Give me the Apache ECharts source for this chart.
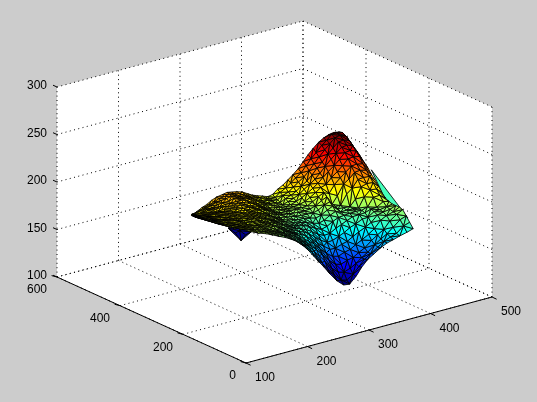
<!DOCTYPE html>
<html><head><meta charset="utf-8">
<style>html,body{margin:0;padding:0;background:#ccc}#c{width:537px;height:402px}</style>
<script src="https://cdn.jsdelivr.net/npm/echarts@6/dist/echarts.min.js"></script>
</head><body><div id="c"></div>
<script>
const xTicks=[100,200,300,400,500];
const yTicks=[0,200,400,600];
const zTicks=[100,150,200,250,300];
// surface columns: x value, first y value in the column, last y value
const columnX=[152,160,169,177,185,193,202,210,218,226,235,243,251,259,268,276,284,292,301,309,317,326,334,342,350,359,367,375,383,392,400];
const columnYFront=[262,205,172,160,150,143,135,130,125,120,116,113,112,112,112,112,111,108,104,98,95,92,89,86,82,77,73,68,64,59,55];
const columnYBack=275;
// z, one row per column, front edge to back edge
const surfaceZ=[
[205,205,206,205,205,206,206,205,205,206,205,205,206,205,205,206,205,205,205,206,205],
[205,205,205,206,206,206,206,207,206,207,207,207,207,207,207,208,207,207,208,207,207],
[204,204,205,205,206,206,207,207,207,208,208,208,209,209,209,209,210,210,210,210,210],
[203,204,204,205,205,206,207,207,208,208,209,209,210,210,210,211,211,211,212,212,212],
[201,202,203,203,204,205,206,206,207,208,208,209,210,210,211,212,212,213,214,214,215],
[199,200,201,202,203,203,204,205,206,207,208,209,209,210,211,212,213,214,215,216,217],
[198,199,200,201,202,203,204,205,205,206,207,208,209,210,211,212,213,214,216,217,218],
[196,197,198,199,200,201,203,204,205,206,207,208,209,210,212,213,214,216,217,218,219],
[194,195,196,197,199,200,201,202,204,205,206,207,208,210,211,212,214,215,216,217,218],
[192,193,194,195,196,198,199,200,202,203,204,205,207,208,209,211,212,213,214,216,217],
[189,190,191,192,194,195,196,198,199,200,202,203,204,205,207,208,209,211,212,213,215],
[185,186,188,189,191,192,193,195,196,197,199,200,201,203,204,205,206,208,209,210,212],
[180,182,184,186,188,189,191,192,193,195,196,197,199,200,201,202,204,205,206,208,209],
[174,177,180,182,185,186,188,190,191,193,194,195,197,198,199,200,202,203,204,206,207],
[166,170,174,177,180,183,185,187,189,191,192,194,195,196,198,199,200,201,203,204,205],
[159,163,168,172,176,180,183,185,187,189,191,193,195,196,197,198,199,200,201,202,203],
[152,156,162,167,172,176,180,183,186,188,190,192,194,195,196,197,198,199,201,202,204],
[144,149,155,161,166,171,176,180,184,187,190,192,194,196,197,198,200,202,204,206,208],
[136,141,147,154,160,166,171,176,181,185,189,192,194,196,198,200,202,204,206,209,211],
[131,135,142,149,156,162,168,174,179,184,188,192,195,197,200,203,205,207,210,213,215],
[131,134,141,148,155,162,169,175,181,186,190,194,197,200,203,206,209,211,214,217,219],
[138,139,144,151,158,165,172,179,185,190,194,198,201,204,207,210,213,215,218,221,224],
[147,146,148,153,160,167,175,182,188,193,197,200,204,207,211,214,217,220,223,227,230],
[154,153,153,157,164,171,179,185,189,191,193,194,195,205,213,219,222,226,229,233,236],
[159,158,158,161,168,175,182,188,190,192,193,194,203,213,219,224,228,231,235,238,241],
[165,164,165,168,173,179,186,189,191,192,193,205,214,219,224,229,234,238,241,244,246],
[169,169,170,173,178,183,187,190,191,192,200,210,218,224,229,234,239,243,246,248,249],
[172,173,175,178,186,190,192,193,194,203,212,218,224,229,235,240,244,248,251,253,251],
[175,176,181,186,190,192,193,194,203,209,214,219,225,230,236,241,245,249,252,253,252],
[178,183,188,192,193,194,195,199,204,209,214,219,224,229,235,239,243,247,250,252,251],
[181,186,191,196,197,197,197,198,200,204,209,214,218,223,227,231,235,238,242,245,247]
];
// low part of the surface seen under the left lobe: x, y, z of each vertex
const dipX=[304,310,328,325,335,311,317,318];
const dipY=[414,467,428,466,454,446,425,445];
const dipZ=[131,135,134,140,140,133,133,134];
const dipFaces=[[1,5,7],[1,7,3],[5,0,7],[0,6,7],[6,2,7],[7,2,4],[7,4,3],[1,0,5],[0,2,6]];
// far sheet seen right of the peak
const sheetX=[481,410,431];
const sheetY=[346,91,206];
const sheetZ=[185,185,185];

const ORIGIN=[246,363];
function project(x,y,z){
  const a=(x-100)/400,b=y/600,c=(z-100)/200;
  return [ORIGIN[0]+246*a-189*b, ORIGIN[1]-66*a-86*b-190*c];
}
function depth(x,y,z){return (x-100)/400+1.3*y/600-0.937*(z-100)/200;}
const allZ=surfaceZ.flat().concat(dipZ);
const zMin=Math.min(...allZ), zMax=Math.max(...allZ);
function jet(z){
  const t=(z-zMin)/(zMax-zMin);
  const f=(o)=>Math.max(0,Math.min(1,1.5-Math.abs(4*t-o)));
  const h=(v)=>Math.round(v*255);
  return 'rgb('+h(f(3))+','+h(f(2))+','+h(f(1))+')';
}
const tris=[];
function addTri(p){
  const zm=(p[0][2]+p[1][2]+p[2][2])/3;
  const d=p.reduce((s,q)=>s+depth(q[0],q[1],q[2]),0)/3;
  tris.push({p:p,z:zm,d:d});
}
function vert(i,j){
  const n=surfaceZ[i].length-1;
  const y=columnYFront[i]+(columnYBack-columnYFront[i])*j/n;
  return [columnX[i],y,surfaceZ[i][j]];
}
for(let i=0;i<surfaceZ.length-1;i++){
  for(let j=0;j<surfaceZ[i].length-1;j++){
    const A=vert(i,j),B=vert(i+1,j),C=vert(i+1,j+1),D=vert(i,j+1);
    if((i*7+j*13+i*j)%5<2){addTri([A,B,C]);addTri([A,C,D]);}
    else{addTri([A,B,D]);addTri([B,C,D]);}
  }
}
const dv=dipX.map((x,k)=>[x,dipY[k],dipZ[k]]);
dipFaces.forEach(t=>addTri(t.map(k=>dv[k])));
const sv=sheetX.map((x,k)=>[x,sheetY[k],sheetZ[k]]);
addTri(sv);
tris.sort((a,b)=>b.d-a.d);

const X0=xTicks[0],X1=xTicks[xTicks.length-1],Y0=yTicks[0],Y1=yTicks[yTicks.length-1],Z0=zTicks[0],Z1=zTicks[zTicks.length-1];
const walls=[
 [[X0,Y1,Z0],[X1,Y1,Z0],[X1,Y1,Z1],[X0,Y1,Z1]],
 [[X1,Y1,Z0],[X1,Y0,Z0],[X1,Y0,Z1],[X1,Y1,Z1]],
 [[X0,Y0,Z0],[X1,Y0,Z0],[X1,Y1,Z0],[X0,Y1,Z0]]
];
const grid=[];
xTicks.forEach(x=>{grid.push([[x,Y0,Z0],[x,Y1,Z0]]);grid.push([[x,Y1,Z0],[x,Y1,Z1]]);});
yTicks.forEach(y=>{grid.push([[X0,y,Z0],[X1,y,Z0]]);grid.push([[X1,y,Z0],[X1,y,Z1]]);});
zTicks.forEach(z=>{grid.push([[X0,Y1,z],[X1,Y1,z]]);grid.push([[X1,Y1,z],[X1,Y0,z]]);});
const axesLines=[[[X0,Y1,Z0],[X0,Y0,Z0]],[[X0,Y0,Z0],[X1,Y0,Z0]]];
const tickMarks=[];
xTicks.forEach(x=>tickMarks.push({at:[x,Y0,Z0],d:[4.6,2.2]}));
yTicks.forEach(y=>tickMarks.push({at:[X0,y,Z0],d:[-5.4,-1.4]}));
zTicks.forEach(z=>tickMarks.push({at:[X0,Y1,z],d:[-4,-1.8]}));
const labels=[];
xTicks.forEach(x=>labels.push({t:String(x),at:[x,Y0,Z0],o:[19,15],a:'center'}));
yTicks.forEach(y=>labels.push({t:String(y),at:[X0,y,Z0],o:[-10,13],a:'right'}));
zTicks.forEach(z=>labels.push({t:String(z),at:[X0,Y1,z],o:[-10,-1],a:'right'}));

function layer(items,render,z){
  return {type:'custom',coordinateSystem:'cartesian2d',data:items.map((_,i)=>[i,0]),
    encode:{x:0,y:1},renderItem:(params,api)=>render(items[params.dataIndex],api),
    clip:false,silent:true,animation:false,progressive:0,z:z};
}
const pt=(api,q)=>api.coord(project(q[0],q[1],q[2]));
const chart=echarts.init(document.getElementById('c'),null,{renderer:'canvas'});
chart.setOption({
  animation:false,backgroundColor:'#cccccc',
  grid:{left:0,right:0,top:0,bottom:0},
  xAxis:{type:'value',min:0,max:537,show:false},
  yAxis:{type:'value',min:0,max:402,inverse:true,show:false},
  series:[
   layer(walls,(w,api)=>({type:'polygon',shape:{points:w.map(q=>pt(api,q))},style:{fill:'#ffffff',stroke:null}}),1),
   layer(grid,(g,api)=>{const a=pt(api,g[0]),b=pt(api,g[1]);return {type:'line',shape:{x1:a[0],y1:a[1],x2:b[0],y2:b[1]},style:{stroke:'#000',lineWidth:1,lineDash:[1,3.4]}};},2),
   layer(axesLines,(g,api)=>{const a=pt(api,g[0]),b=pt(api,g[1]);return {type:'line',shape:{x1:a[0],y1:a[1],x2:b[0],y2:b[1]},style:{stroke:'#000',lineWidth:1}};},3),
   layer(tickMarks,(m,api)=>{const a=pt(api,m.at);return {type:'line',shape:{x1:a[0],y1:a[1],x2:a[0]+m.d[0],y2:a[1]+m.d[1]},style:{stroke:'#000',lineWidth:1}};},3),
   layer(tris,(t,api)=>({type:'polygon',shape:{points:t.p.map(q=>pt(api,q))},style:{fill:jet(t.z),stroke:'#000',lineWidth:0.85,lineJoin:'round'}}),4),
   layer(labels,(l,api)=>{const a=pt(api,l.at);return {type:'text',x:a[0]+l.o[0],y:a[1]+l.o[1],style:{text:l.t,fill:'#000',font:'12px "Liberation Sans"',textAlign:l.a,textVerticalAlign:'middle'}};},5)
  ]
});
</script></body></html>
